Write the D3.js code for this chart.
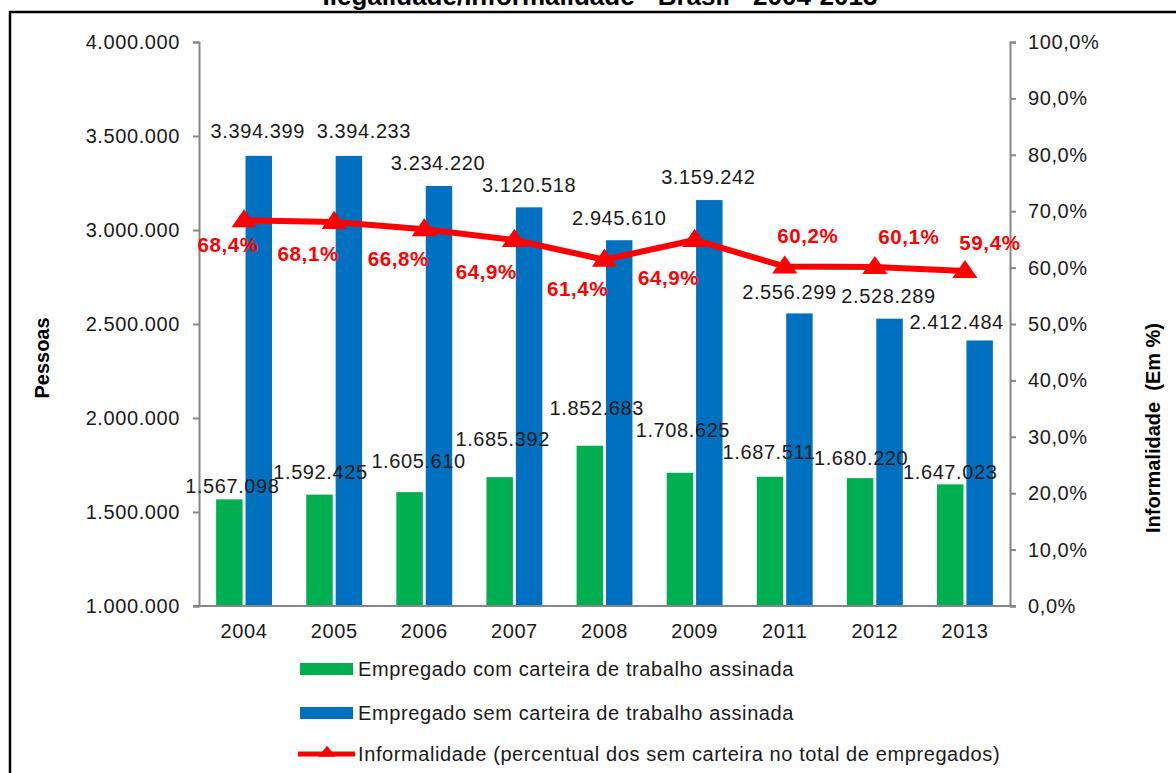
<!DOCTYPE html>
<html><head><meta charset="utf-8">
<script src="https://cdn.jsdelivr.net/npm/d3@7"></script>
<style>
html,body{margin:0;padding:0;background:#fff;}
svg{display:block;font-family:"Liberation Sans",Arial,sans-serif;}
</style></head>
<body>
<svg id="chart" width="1176" height="773"></svg>
<script>
// ---- data ----
const years = ["2004","2005","2006","2007","2008","2009","2011","2012","2013"];
const comCarteira = [1567098,1592425,1605610,1685392,1852683,1708625,1687511,1680220,1647023];
const semCarteira = [3394399,3394233,3234220,3120518,2945610,3159242,2556299,2528289,2412484];
const informalidade = [68.4,68.1,66.8,64.9,61.4,64.9,60.2,60.1,59.4];
const leftTicks = [1000000,1500000,2000000,2500000,3000000,3500000,4000000];
const rightTicks = [0,10,20,30,40,50,60,70,80,90,100];
const seriesNames = ["Empregado com carteira de trabalho assinada","Empregado sem carteira de trabalho assinada","Informalidade (percentual dos sem carteira no total de empregados)"];
const titleText = "Ilegalidade/Informalidade - Brasil - 2004-2013";

// ---- label nudges (layout, px) ----
const comLblDx = [3,1,9,3,7,3,-1,1,0];
const comLblDy = [-6,-16,-24,-31,-31,-36,-18,-13,-5];
const semLblDx = [-1,15,-1,0,0,-1,-10,-1,-23];
const semLblDy = [-18,-18,-16,-15,-15,-16,-14,-16,-11];
const pctLblDx = [-16,-26,-26,-28,-27,-26,23,34,25];
const pctLblDy = [32,39,37,39,36,45,-23,-23,-21];

const colGreen = "#00B050", colBlue = "#0070C0", colRed = "#FF0000", axisCol = "#868686";
const LS = 0.6; // letter spacing for regular text
const fmtNum = d3.formatLocale({decimal:",",thousands:".",grouping:[3],currency:["R$",""]});
const fInt = fmtNum.format(",d");
const fPct = fmtNum.format(".1f");

const svg = d3.select("#chart");
const L = 199, R = 1010, T = 42, B = 606;

const x0 = d3.scaleBand().domain(years).range([L, R]).paddingInner(0).paddingOuter(0);
const bw = x0.bandwidth();
const x1 = d3.scaleBand().domain(["com","sem"]).range([bw*0.19, bw*0.81]).paddingInner(0.1);
const yL = d3.scaleLinear().domain([1000000,4000000]).range([B, T]);
const yR = d3.scaleLinear().domain([0,100]).range([B, T]);

// frame + title
svg.append("text").attr("x", 600).attr("y", 5).attr("text-anchor","middle")
  .attr("font-size", 26).attr("font-weight","bold").attr("fill","#000").text(titleText);
svg.append("line").attr("x1",10).attr("x2",1176).attr("y1",12).attr("y2",12).attr("stroke","#000").attr("stroke-width",2.5);
svg.append("line").attr("x1",10).attr("x2",10).attr("y1",11).attr("y2",773).attr("stroke","#000").attr("stroke-width",2.5);

// bars
const g = svg.append("g");
const rows = years.map((y,i)=>({year:y, com:comCarteira[i], sem:semCarteira[i], pct:informalidade[i], i}));
g.selectAll("rect.com").data(rows).join("rect").attr("class","com")
  .attr("x", d=>x0(d.year)+x1("com")).attr("width", x1.bandwidth())
  .attr("y", d=>yL(d.com)).attr("height", d=>yL(1000000)-yL(d.com)).attr("fill", colGreen);
g.selectAll("rect.sem").data(rows).join("rect").attr("class","sem")
  .attr("x", d=>x0(d.year)+x1("sem")).attr("width", x1.bandwidth())
  .attr("y", d=>yL(d.sem)).attr("height", d=>yL(1000000)-yL(d.sem)).attr("fill", colBlue);

// axes
const axL = d3.axisLeft(yL).tickValues(leftTicks).tickFormat(d=>fInt(d)).tickSize(6).tickPadding(13);
const gL = svg.append("g").attr("transform",`translate(${L},0)`).call(axL);
const axR = d3.axisRight(yR).tickValues(rightTicks).tickFormat(d=>fPct(d)+"%").tickSize(6).tickPadding(12);
const gR = svg.append("g").attr("transform",`translate(${R},0)`).call(axR);
const axX = d3.axisBottom(x0).tickSize(0).tickPadding(18);
const gX = svg.append("g").attr("transform",`translate(0,${B})`).call(axX);
[gL,gR,gX].forEach(a=>{
  a.select(".domain").attr("stroke", axisCol).attr("stroke-width",2);
  a.selectAll(".tick line").attr("stroke", axisCol).attr("stroke-width",2);
  a.selectAll(".tick text").attr("fill","#1a1a1a").attr("font-size",20).attr("letter-spacing",LS)
    .attr("font-family","Liberation Sans, Arial, sans-serif");
});
gX.select(".domain").attr("d", `M${L-6},0H${R+6}`);

// axis titles
svg.append("text").attr("transform","translate(49,358) rotate(-90)").attr("text-anchor","middle")
  .attr("font-size",20).attr("font-weight","bold").attr("fill","#000").text("Pessoas");
svg.append("text").attr("transform","translate(1160,428) rotate(-90)").attr("text-anchor","middle")
  .attr("font-size",20).attr("font-weight","bold").attr("fill","#000").style("white-space","pre").text("Informalidade  (Em %)");

// line
const cx = d => x0(d.year) + bw/2;
const line = d3.line().x(cx).y(d=>yR(d.pct));
svg.append("path").datum(rows).attr("d", line).attr("fill","none").attr("stroke", colRed).attr("stroke-width",6).attr("stroke-linejoin","round");
const tri = d3.symbol().type(d3.symbolTriangle).size(190);
svg.selectAll("path.mk").data(rows).join("path").attr("class","mk")
  .attr("transform", d=>`translate(${cx(d)},${yR(d.pct)+1}) scale(1.2,1)`).attr("d", tri).attr("fill", colRed);

// value labels
svg.selectAll("text.lcom").data(rows).join("text").attr("class","lcom")
  .attr("x", d=>x0(d.year)+x1("com")+x1.bandwidth()/2+comLblDx[d.i])
  .attr("y", d=>yL(d.com)+comLblDy[d.i]).attr("text-anchor","middle").attr("letter-spacing",LS)
  .attr("font-size",20).attr("fill","#1a1a1a").text(d=>fInt(d.com));
svg.selectAll("text.lsem").data(rows).join("text").attr("class","lsem")
  .attr("x", d=>x0(d.year)+x1("sem")+x1.bandwidth()/2+semLblDx[d.i])
  .attr("y", d=>yL(d.sem)+semLblDy[d.i]).attr("text-anchor","middle").attr("letter-spacing",LS)
  .attr("font-size",20).attr("fill","#1a1a1a").text(d=>fInt(d.sem));
svg.selectAll("text.lpct").data(rows).join("text").attr("class","lpct")
  .attr("x", d=>cx(d)+pctLblDx[d.i]).attr("y", d=>yR(d.pct)+pctLblDy[d.i]).attr("text-anchor","middle")
  .attr("font-size",20.5).attr("letter-spacing",0.6).attr("font-weight","bold").attr("fill",colRed).text(d=>fPct(d.pct)+"%");

// legend
const leg = svg.append("g");
const legY = [669, 713, 754];
const legItems = seriesNames.map((n,i)=>({name:n, i}));
const li = leg.selectAll("g").data(legItems).join("g").attr("transform", d=>`translate(0,${legY[d.i]})`);
li.filter(d=>d.i<2).append("rect").attr("x",300).attr("y",-6).attr("width",53).attr("height",12)
  .attr("fill", d=>d.i===0?colGreen:colBlue);
li.filter(d=>d.i===2).append("line").attr("x1",298).attr("x2",355).attr("y1",0).attr("y2",0)
  .attr("stroke",colRed).attr("stroke-width",5);
li.filter(d=>d.i===2).append("path").attr("transform","translate(327,-1) scale(1.1,0.8)")
  .attr("d", d3.symbol().type(d3.symbolTriangle).size(110)).attr("fill",colRed);
li.append("text").attr("x",358).attr("y",7).attr("font-size",20).attr("letter-spacing",LS).attr("fill","#1a1a1a").text(d=>d.name);
</script>
</body></html>
